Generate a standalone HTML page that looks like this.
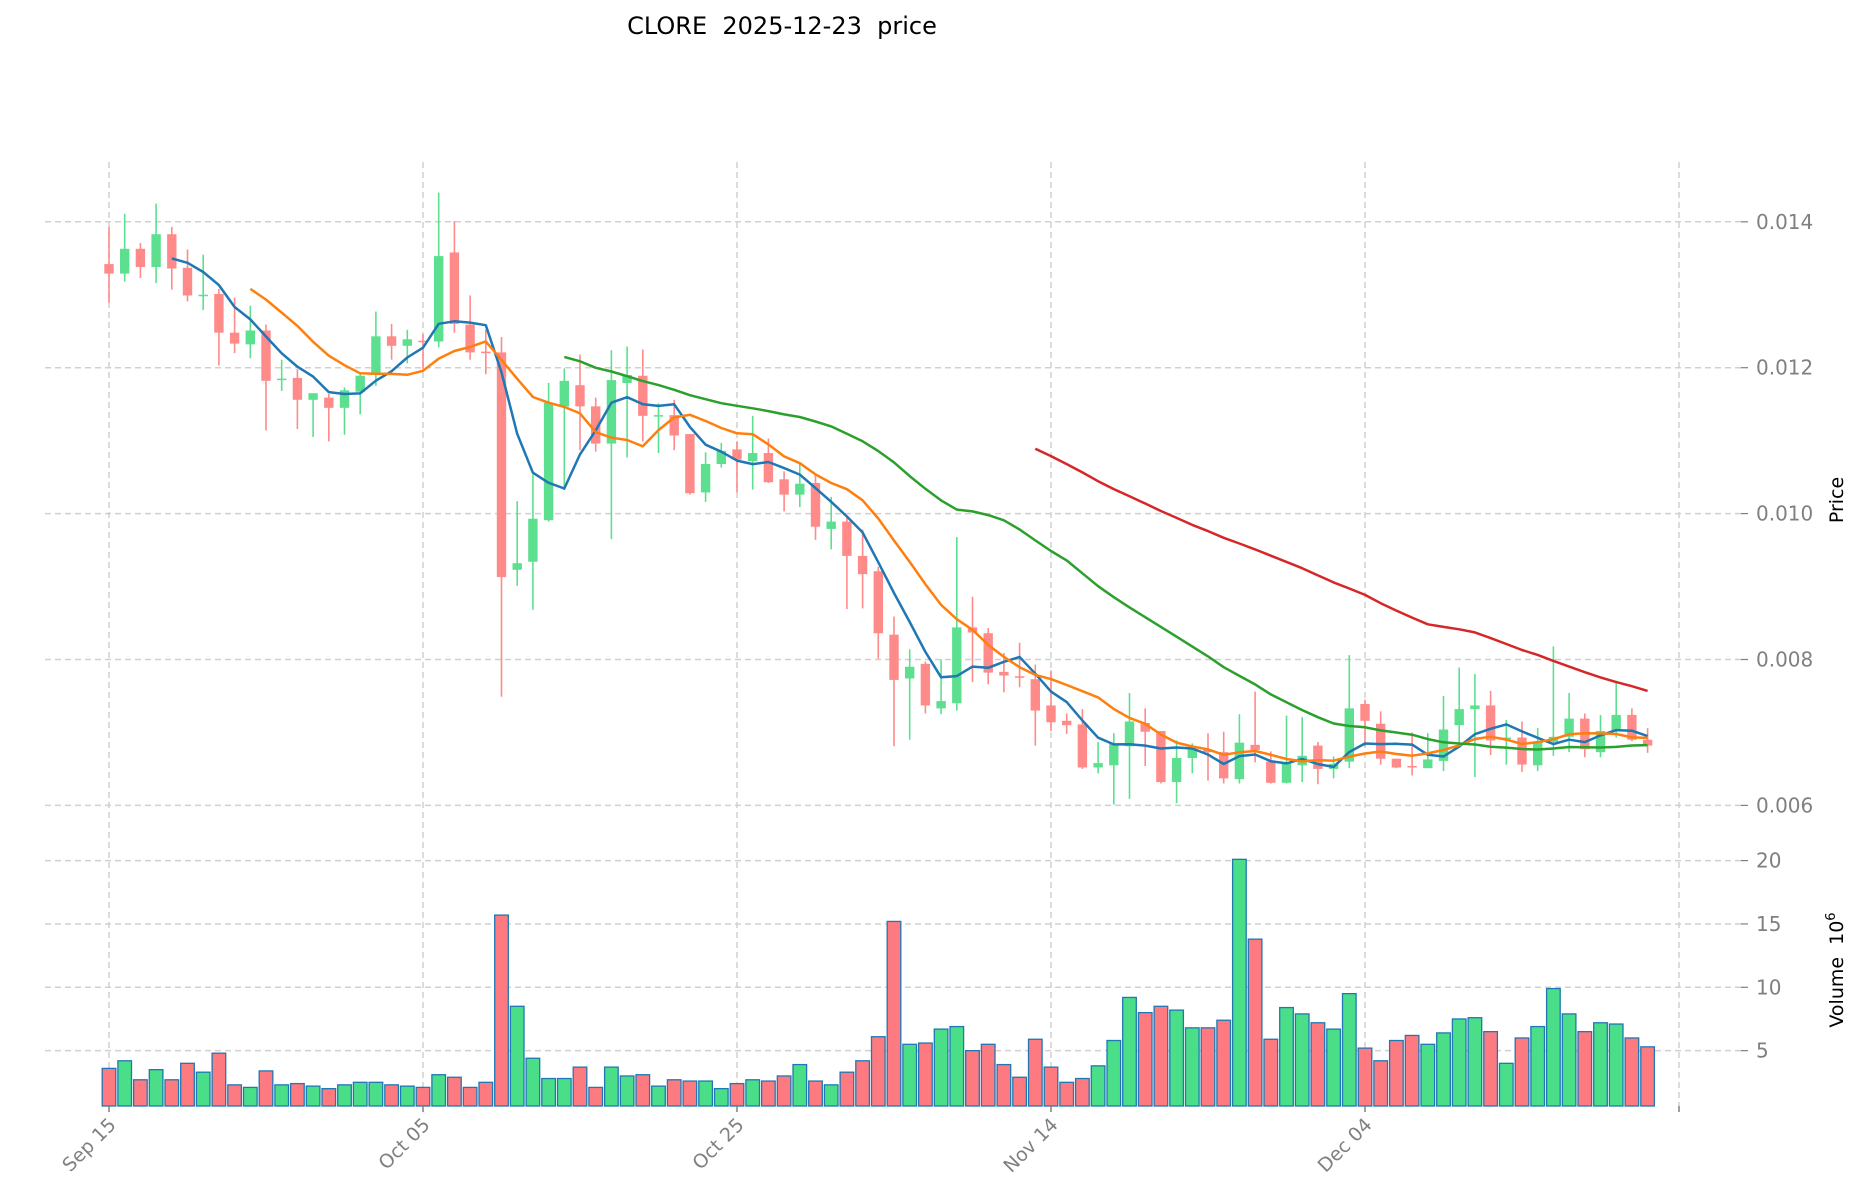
<!DOCTYPE html>
<html><head><meta charset="utf-8"><style>
html,body{margin:0;padding:0;background:#fff;}
svg{display:block;font-family:"DejaVu Sans","Liberation Sans",sans-serif;}
</style></head><body>
<svg id="chart" width="1860" height="1202" viewBox="0 0 1860 1202" xmlns="http://www.w3.org/2000/svg">
<text x="782" y="34" font-size="24" text-anchor="middle" fill="#000" xml:space="preserve" style="white-space:pre">CLORE  2025-12-23  price</text>
<g id="grid"></g>
<g id="vol"></g>
<g id="candles"></g>
<g id="mas"></g>
<g id="axes"></g>
<text transform="translate(1843,500) rotate(-90)" font-size="19" text-anchor="middle" fill="#000">Price</text>
<text transform="translate(1843,970) rotate(-90)" font-size="19" text-anchor="middle" fill="#000" xml:space="preserve" style="white-space:pre">Volume  10<tspan font-size="13" dy="-8">6</tspan></text>
</svg>
<script>
const opens=[0.01342,0.01329,0.01363,0.01338,0.01383,0.01337,0.01299,0.01301,0.01248,0.01232,0.01251,0.01183,0.01186,0.01156,0.01159,0.01145,0.01167,0.01190,0.01243,0.01230,0.01237,0.01236,0.01358,0.01259,0.01222,0.01221,0.00923,0.00934,0.00991,0.01147,0.01176,0.01147,0.01096,0.01179,0.01189,0.01134,0.01135,0.01109,0.01029,0.01068,0.01088,0.01072,0.01083,0.01047,0.01026,0.01042,0.00979,0.00989,0.00942,0.00921,0.00834,0.00774,0.00794,0.00733,0.00740,0.00844,0.00836,0.00783,0.00777,0.00773,0.00737,0.00716,0.00711,0.00652,0.00655,0.00681,0.00713,0.00702,0.00632,0.00665,0.00676,0.00673,0.00636,0.00683,0.00660,0.00631,0.00655,0.00682,0.00650,0.00660,0.00739,0.00712,0.00664,0.00654,0.00651,0.00661,0.00710,0.00732,0.00737,0.00691,0.00693,0.00655,0.00687,0.00694,0.00719,0.00673,0.00702,0.00724,0.00690];
const closes=[0.01329,0.01363,0.01338,0.01383,0.01336,0.01299,0.01300,0.01248,0.01233,0.01251,0.01182,0.01185,0.01156,0.01165,0.01145,0.01169,0.01189,0.01243,0.01230,0.01239,0.01236,0.01353,0.01260,0.01221,0.01221,0.00913,0.00932,0.00993,0.01152,0.01182,0.01147,0.01096,0.01183,0.01190,0.01134,0.01135,0.01107,0.01028,0.01068,0.01086,0.01074,0.01083,0.01043,0.01026,0.01041,0.00982,0.00989,0.00942,0.00917,0.00836,0.00772,0.00790,0.00737,0.00743,0.00844,0.00837,0.00782,0.00778,0.00776,0.00730,0.00714,0.00710,0.00652,0.00658,0.00684,0.00715,0.00701,0.00632,0.00665,0.00677,0.00673,0.00637,0.00686,0.00676,0.00631,0.00658,0.00668,0.00650,0.00657,0.00733,0.00716,0.00664,0.00652,0.00652,0.00663,0.00704,0.00732,0.00737,0.00689,0.00693,0.00656,0.00688,0.00694,0.00719,0.00677,0.00702,0.00724,0.00690,0.00682];
const highs=[0.01393,0.01411,0.01371,0.01425,0.01393,0.01362,0.01355,0.01308,0.01296,0.01285,0.01259,0.01211,0.01198,0.01165,0.01164,0.01173,0.01192,0.01277,0.01260,0.01252,0.01246,0.01440,0.01401,0.01299,0.01252,0.01242,0.01017,0.01054,0.01179,0.01199,0.01218,0.01159,0.01224,0.01229,0.01225,0.01151,0.01156,0.01109,0.01084,0.01097,0.01099,0.01134,0.01103,0.01058,0.01069,0.01053,0.01023,0.00994,0.00978,0.00927,0.00859,0.00814,0.00797,0.00800,0.00968,0.00886,0.00843,0.00809,0.00823,0.00793,0.00785,0.00726,0.00732,0.00687,0.00699,0.00754,0.00733,0.00702,0.00689,0.00685,0.00699,0.00701,0.00725,0.00756,0.00674,0.00723,0.00721,0.00687,0.00667,0.00806,0.00745,0.00729,0.00664,0.00700,0.00699,0.00750,0.00789,0.00780,0.00757,0.00717,0.00715,0.00706,0.00818,0.00754,0.00726,0.00724,0.00771,0.00733,0.00706];
const lows=[0.01289,0.01318,0.01323,0.01316,0.01307,0.01291,0.01279,0.01203,0.01220,0.01213,0.01114,0.01168,0.01116,0.01105,0.01099,0.01108,0.01136,0.01175,0.01211,0.01206,0.01198,0.01228,0.01248,0.01211,0.01191,0.00749,0.00901,0.00868,0.00989,0.01032,0.01087,0.01085,0.00965,0.01077,0.01099,0.01083,0.01087,0.01026,0.01016,0.01063,0.01029,0.01033,0.01042,0.01003,0.01009,0.00964,0.00951,0.00869,0.00870,0.00801,0.00681,0.00690,0.00726,0.00725,0.00730,0.00769,0.00766,0.00755,0.00762,0.00682,0.00702,0.00698,0.00650,0.00644,0.00601,0.00609,0.00654,0.00630,0.00603,0.00644,0.00634,0.00630,0.00630,0.00659,0.00630,0.00630,0.00632,0.00629,0.00637,0.00651,0.00681,0.00656,0.00651,0.00641,0.00651,0.00647,0.00686,0.00639,0.00669,0.00656,0.00646,0.00647,0.00668,0.00673,0.00666,0.00666,0.00693,0.00688,0.00672];
const volumes=[3.6,4.2,2.7,3.5,2.7,4.0,3.3,4.8,2.3,2.1,3.4,2.3,2.4,2.2,2.0,2.3,2.5,2.5,2.3,2.2,2.1,3.1,2.9,2.1,2.5,15.7,8.5,4.4,2.8,2.8,3.7,2.1,3.7,3.0,3.1,2.2,2.7,2.6,2.6,2.0,2.4,2.7,2.6,3.0,3.9,2.6,2.3,3.3,4.2,6.1,15.2,5.5,5.6,6.7,6.9,5.0,5.5,3.9,2.9,5.9,3.7,2.5,2.8,3.8,5.8,9.2,8.0,8.5,8.2,6.8,6.8,7.4,20.1,13.8,5.9,8.4,7.9,7.2,6.7,9.5,5.2,4.2,5.8,6.2,5.5,6.4,7.5,7.6,6.5,4.0,6.0,6.9,9.9,7.9,6.5,7.2,7.1,6.0,5.3];
const priceTicks=[0.006,0.008,0.010,0.012,0.014];
const priceTickLabels=["0.006","0.008","0.010","0.012","0.014"];
const volTicks=[5,10,15,20];
const dateTickIdx=[0,20,40,60,80];
const dateTickLabels=["Sep 15","Oct 05","Oct 25","Nov 14","Dec 04"];
const maPeriods=[5,10,30,60];
const maColors=["#1f77b4","#ff7f0e","#2ca02c","#d62728"];

const NS="http://www.w3.org/2000/svg";
const X0=109, DX=15.7;
const xs=i=>X0+i*DX;
const yp=p=>221.8+(0.014-p)*72950;
const yv=v=>1114-v*12.67;
const VB=1106, GL=45, GR=1741, XR=1679;
function mk(tag,attrs,parent){const e=document.createElementNS(NS,tag);for(const k in attrs)e.setAttribute(k,attrs[k]);parent.appendChild(e);return e;}
const grid=document.getElementById('grid'),vol=document.getElementById('vol'),cg=document.getElementById('candles'),mg=document.getElementById('mas'),ax=document.getElementById('axes');
const GC="#d0d0d0";
priceTicks.forEach((p,k)=>{
  const l=mk('line',{x1:GL,x2:GR,y1:yp(p),y2:yp(p),stroke:GC,'stroke-width':1.5,'stroke-dasharray':'6,4'},grid);
  
  
  const t=mk('line',{x1:GR,x2:GR+7,y1:yp(p),y2:yp(p),stroke:'#808080','stroke-width':1.2},ax);
  
  
  const tx=mk('text',{x:GR+15,y:yp(p)+7,'font-size':20,fill:'#808080'},ax);
  tx.textContent=priceTickLabels[k];
  
  
});
volTicks.forEach(v=>{
  const l=mk('line',{x1:GL,x2:GR,y1:yv(v),y2:yv(v),stroke:GC,'stroke-width':1.5,'stroke-dasharray':'6,4'},grid);
  
  
  const t=mk('line',{x1:GR,x2:GR+7,y1:yv(v),y2:yv(v),stroke:'#808080','stroke-width':1.2},ax);
  
  
  const tx=mk('text',{x:GR+15,y:yv(v)+7,'font-size':20,fill:'#808080'},ax);
  tx.textContent=String(v);
  
  
});
dateTickIdx.concat([100]).forEach((i,k)=>{
  const x=xs(i);
  const l=mk('line',{x1:x,x2:x,y1:162,y2:VB,stroke:GC,'stroke-width':1.5,'stroke-dasharray':'6,4'},grid);
  
  
  const t=mk('line',{x1:x,x2:x,y1:VB,y2:VB+6,stroke:'#808080','stroke-width':1.5},ax);
  
  
  if(k<dateTickLabels.length){
    const tx=mk('text',{transform:`translate(${x+8},${VB+20}) rotate(-45)`,'font-size':19,fill:'#808080','text-anchor':'end'},ax);
    tx.textContent=dateTickLabels[k];
    
    
  }
});
const GREEN="#5ce08f",RED="#ff8a8a";
volumes.forEach((v,i)=>{
  const up=closes[i]>=opens[i];
  const top=Math.min(yv(v),VB);
  const r=mk('rect',{x:xs(i)-6.8,y:top,width:13.6,height:VB-top,fill:up?"#4ade89":"#fd7b80",stroke:"#1f77b4",'stroke-width':1.3},vol);
  
  
});
opens.forEach((o,i)=>{
  const c=closes[i],up=c>=o,col=up?GREEN:RED,x=xs(i);
  const w=mk('line',{x1:x,x2:x,y1:yp(highs[i]),y2:yp(lows[i]),stroke:col,'stroke-width':1.6},cg);
  
  
  const y1=yp(Math.max(o,c)),y2=yp(Math.min(o,c));
  const b=mk('rect',{x:x-4.7,y:y1,width:9.4,height:Math.max(y2-y1,1.5),fill:col},cg);
  
  
});
maPeriods.forEach((n,k)=>{
  const pts=[];
  for(let i=n-1;i<closes.length;i++){let s=0;for(let j=i-n+1;j<=i;j++)s+=closes[j];pts.push(xs(i).toFixed(1)+","+yp(s/n).toFixed(1));}
  const pl=mk('polyline',{points:pts.join(" "),fill:'none',stroke:maColors[k],'stroke-width':2.5,'stroke-linejoin':'round'},mg);
  
  
});
</script>
</body></html>
